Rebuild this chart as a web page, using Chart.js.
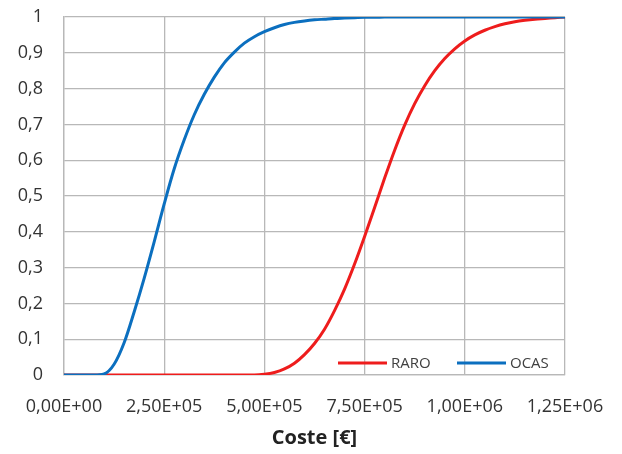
<!DOCTYPE html>
<html>
<head>
<meta charset="utf-8">
<script src="https://cdn.jsdelivr.net/npm/chart.js@4/dist/chart.umd.min.js"></script>
<style>
html,body{margin:0;padding:0;background:#fff;}
#wrap{width:622px;height:454px;position:relative;}
</style>
</head>
<body>
<div id="wrap"><canvas id="c" width="622" height="454"></canvas></div>
<script>
// Cost values (x) in €
const costs = [0,25000,50000,75000,100000,125000,150000,175000,200000,225000,250000,275000,300000,325000,350000,375000,400000,425000,450000,475000,500000,525000,550000,575000,600000,625000,650000,675000,700000,725000,750000,775000,800000,825000,850000,875000,900000,925000,950000,975000,1000000,1025000,1050000,1075000,1100000,1125000,1150000,1175000,1200000,1225000,1250000];
// Cumulative probability, RARO
const raro = [0,0,0,0,0,0,0,0,0,0,0,0,0,0,0,0,0,0,0,0,0.002,0.007,0.017,0.033,0.057,0.088,0.128,0.18,0.24,0.31,0.387,0.468,0.55,0.628,0.698,0.758,0.808,0.85,0.884,0.911,0.933,0.95,0.963,0.973,0.981,0.987,0.991,0.994,0.996,0.998,1];
// Cumulative probability, OCAS
const ocas = [0,0,0,0,0.003,0.03,0.09,0.176,0.27,0.372,0.478,0.576,0.657,0.727,0.784,0.832,0.872,0.902,0.927,0.945,0.959,0.97,0.979,0.985,0.989,0.992,0.994,0.996,0.997,0.998,0.999,0.999,1,1,1,1,1,1,1,1,1,1,1,1,1,1,1,1,1,1,1];
const seriesNames = ['RARO','OCAS'];
const xTickLabels = ['0,00E+00','2,50E+05','5,00E+05','7,50E+05','1,00E+06','1,25E+06'];
const yTickLabels = ['0','0,1','0,2','0,3','0,4','0,5','0,6','0,7','0,8','0,9','1'];
const xTitle = 'Coste [€]';

const toPts = arr => costs.map((c,i)=>({x:c,y:arr[i]}));

const legendPlugin = {
  id:'innerLegend',
  afterDraw(chart){
    const ctx = chart.ctx;
    const a = chart.chartArea;
    const y = a.bottom - 12;
    const items = [
      {ds: chart.data.datasets[0], x0: a.left + 274},
      {ds: chart.data.datasets[1], x0: a.left + 393}
    ];
    ctx.save();
    ctx.font = '15px "Open Sans"';
    ctx.textBaseline = 'middle';
    ctx.textAlign = 'left';
    items.forEach(it=>{
      ctx.strokeStyle = it.ds.borderColor;
      ctx.lineWidth = 3;
      ctx.beginPath();
      ctx.moveTo(it.x0, y);
      ctx.lineTo(it.x0 + 49, y);
      ctx.stroke();
      ctx.fillStyle = '#404040';
      ctx.fillText(it.ds.label, it.x0 + 53, y + 1);
    });
    ctx.restore();
  }
};

Chart.defaults.font.family = '"Open Sans", sans-serif';
Chart.defaults.color = '#333333';

new Chart(document.getElementById('c'), {
  type: 'line',
  data: {
    datasets: [
      {label: seriesNames[0], data: toPts(raro), borderColor: '#ee1c1c', borderWidth: 3, pointRadius: 0, cubicInterpolationMode: 'monotone', fill: false, order: 1},
      {label: seriesNames[1], data: toPts(ocas), borderColor: '#0b6fbf', borderWidth: 3, pointRadius: 0, cubicInterpolationMode: 'monotone', fill: false, order: 0}
    ]
  },
  options: {
    responsive: false,
    animation: false,
    layout: {padding: {left: 0, top: 17, right: 57, bottom: 0}},
    plugins: {legend: {display: false}, tooltip: {enabled: false}},
    scales: {
      x: {
        type: 'linear', min: 0, max: 1250000,
        afterFit(s){ s.height = 79; },
        grid: {color: '#b8b8b8', lineWidth: 1.3, drawTicks: true, tickLength: 17, tickColor: 'rgba(0,0,0,0)'},
        border: {display: true, color: '#b8b8b8', width: 1.3},
        ticks: {stepSize: 250000, padding: 4, font: {size: 18}, color: '#333',
          callback: (v) => xTickLabels[Math.round(v/250000)], maxRotation: 0},
        title: {display: true, text: xTitle, font: {size: 20, weight: 'bold'}, color: '#222', padding: {top: 0, bottom: 4}}
      },
      y: {
        min: 0, max: 1,
        afterFit(s){ s.width = 64; },
        grid: {color: '#b8b8b8', lineWidth: 1.3, drawTicks: true, tickLength: 17, tickColor: 'rgba(0,0,0,0)'},
        border: {display: true, color: '#b8b8b8', width: 1.3},
        ticks: {stepSize: 0.1, padding: 4, font: {size: 18}, color: '#333',
          callback: (v) => yTickLabels[Math.round(v*10)]}
      }
    }
  },
  plugins: [legendPlugin]
});
</script>
</body>
</html>
